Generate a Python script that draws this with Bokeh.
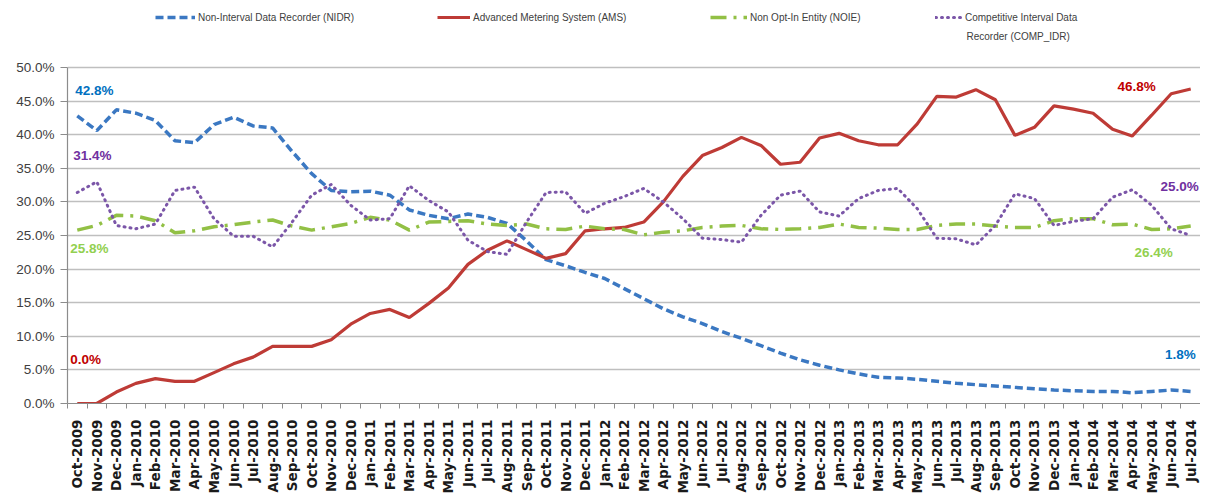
import numpy as np
from bokeh.plotting import figure
from bokeh.models import (Range1d, FixedTicker, PrintfTickFormatter, Legend, LegendItem,
                          ColumnDataSource, Label)
from bokeh.embed import file_html
from bokeh.resources import INLINE
from bokeh.core.properties import value

months = ["Oct-2009", "Nov-2009", "Dec-2009",
          "Jan-2010", "Feb-2010", "Mar-2010", "Apr-2010", "May-2010", "Jun-2010",
          "Jul-2010", "Aug-2010", "Sep-2010", "Oct-2010", "Nov-2010", "Dec-2010",
          "Jan-2011", "Feb-2011", "Mar-2011", "Apr-2011", "May-2011", "Jun-2011",
          "Jul-2011", "Aug-2011", "Sep-2011", "Oct-2011", "Nov-2011", "Dec-2011",
          "Jan-2012", "Feb-2012", "Mar-2012", "Apr-2012", "May-2012", "Jun-2012",
          "Jul-2012", "Aug-2012", "Sep-2012", "Oct-2012", "Nov-2012", "Dec-2012",
          "Jan-2013", "Feb-2013", "Mar-2013", "Apr-2013", "May-2013", "Jun-2013",
          "Jul-2013", "Aug-2013", "Sep-2013", "Oct-2013", "Nov-2013", "Dec-2013",
          "Jan-2014", "Feb-2014", "Mar-2014", "Apr-2014", "May-2014", "Jun-2014",
          "Jul-2014"]

nidr = [42.8, 40.6, 43.7,
        43.2, 42.1, 39.1, 38.8, 41.5, 42.6, 41.3, 41.0, 37.5, 34.2, 31.7, 31.5,
        31.6, 31.0, 28.8, 28.0, 27.5, 28.2, 27.7, 26.8, 24.2, 21.4, 20.5, 19.5,
        18.6, 17.1, 15.6, 14.1, 12.9, 11.9, 10.7, 9.7, 8.6, 7.5, 6.5, 5.7,
        5.0, 4.4, 3.9, 3.8, 3.6, 3.3, 3.0, 2.8, 2.6, 2.4, 2.2, 2.0,
        1.9, 1.8, 1.8, 1.6, 1.8, 2.0, 1.8]

ams = [0.0, 0.0, 1.7,
       3.0, 3.7, 3.3, 3.3, 4.6, 5.9, 6.9, 8.5, 8.5, 8.5, 9.5, 11.8,
       13.4, 14.0, 12.8, 14.9, 17.2, 20.7, 22.8, 24.2, 22.9, 21.6, 22.3, 25.7,
       26.0, 26.2, 27.0, 30.0, 33.8, 36.9, 38.1, 39.6, 38.4, 35.6, 35.9, 39.5,
       40.2, 39.1, 38.5, 38.5, 41.6, 45.7, 45.6, 46.7, 45.2, 39.9, 41.1, 44.3,
       43.8, 43.2, 40.8, 39.8, 42.9, 46.1, 46.8]

noie = [25.8, 26.5, 28.0,
        27.9, 27.2, 25.4, 25.7, 26.3, 26.6, 27.0, 27.3, 26.4, 25.8, 26.3, 26.8,
        27.7, 27.3, 25.8, 27.0, 27.1, 27.2, 26.7, 26.5, 26.7, 26.0, 25.9, 26.4,
        26.0, 25.9, 25.1, 25.5, 25.7, 26.2, 26.4, 26.5, 26.0, 25.9, 26.0, 26.2,
        26.7, 26.2, 26.1, 25.9, 25.9, 26.5, 26.7, 26.7, 26.4, 26.2, 26.2, 27.2,
        27.5, 27.5, 26.6, 26.7, 25.9, 26.0, 26.4]

comp = [31.4, 33.0, 26.5,
        26.0, 26.7, 31.7, 32.2, 27.5, 24.9, 24.9, 23.3, 27.0, 31.0, 32.6, 29.5,
        27.3, 27.5, 32.4, 30.2, 28.5, 24.3, 22.6, 22.2, 27.0, 31.4, 31.5, 28.3,
        29.8, 30.8, 32.0, 30.0, 27.5, 24.6, 24.4, 24.0, 28.0, 31.0, 31.6, 28.5,
        27.9, 30.5, 31.7, 32.0, 29.0, 24.6, 24.5, 23.6, 26.5, 31.2, 30.5, 26.5,
        27.1, 27.5, 30.7, 31.8, 29.5, 26.0, 25.0]

y_ticks = [0, 5, 10, 15, 20, 25, 30, 35, 40, 45, 50]

series_names = ["Non-Interval Data Recorder (NIDR)", "Advanced Metering System (AMS)",
                "Non Opt-In Entity (NOIE)", "Competitive Interval Data"]
comp_name_line2 = "Recorder (COMP_IDR)"

x = list(range(len(months)))

W, H = 1200, 500
LEFT = 67
FRAME_H = 403                     # frame reaches the top of the canvas (legend lives inside)
BOTTOM = H - FRAME_H
PLOT_H = 336                      # pixels from 0% to 50%
y_top = y_ticks[-1] * FRAME_H / PLOT_H

p = figure(width=W, height=H, output_backend="svg", toolbar_location=None,
           x_range=Range1d(-0.5, len(months) - 0.5), y_range=Range1d(0, y_top),
           min_border_left=LEFT, min_border_top=0, min_border_bottom=BOTTOM,
           min_border_right=0)
p.outline_line_color = None
p.background_fill_color = "white"
p.border_fill_color = "white"

# grid
p.xgrid.grid_line_color = None
p.ygrid.grid_line_color = "#BFBFBF"
p.ygrid.grid_line_width = 1.5

# y axis
p.yaxis.ticker = FixedTicker(ticks=y_ticks)
p.yaxis.bounds = (y_ticks[0], y_ticks[-1])
p.yaxis.formatter = PrintfTickFormatter(format="%.1f%%")
p.yaxis.axis_line_color = "#8C8C8C"
p.yaxis.axis_line_width = 1.2
p.yaxis.major_tick_line_color = "#8C8C8C"
p.yaxis.major_tick_out = 7
p.yaxis.major_tick_in = 0
p.yaxis.minor_tick_line_color = None
p.yaxis.major_label_standoff = 6
p.yaxis.major_label_text_font = "Liberation Sans"
p.yaxis.major_label_text_font_size = "13.5px"
p.yaxis.major_label_text_color = "#404040"

# x axis
p.xaxis.ticker = FixedTicker(ticks=x, minor_ticks=[i - 0.5 for i in x] + [len(x) - 0.5])
p.xaxis.major_label_overrides = {i: m for i, m in enumerate(months)}
p.xaxis.major_label_orientation = np.pi / 2
p.xaxis.axis_line_color = "#8C8C8C"
p.xaxis.axis_line_width = 1.2
p.xaxis.major_tick_line_color = None
p.xaxis.major_tick_out = 0
p.xaxis.minor_tick_line_color = "#8C8C8C"
p.xaxis.minor_tick_out = 5
p.xaxis.minor_tick_in = 0
p.xaxis.major_label_standoff = 11
p.xaxis.major_label_text_font = "DejaVu Sans"
p.xaxis.major_label_text_font_style = "bold"
p.xaxis.major_label_text_font_size = "13.5px"
p.xaxis.major_label_text_color = "#1A1A1A"

# series
r_nidr = p.line(x, nidr, line_color="#3B78C2", line_width=3.5, line_dash="8 4")
r_ams = p.line(x, ams, line_color="#BE3B36", line_width=3.2)
r_noie = p.line(x, noie, line_color="#92C045", line_width=3.5, line_dash="16 7 3 7")
r_comp = p.line(x, comp, line_color="#7B56A8", line_width=3, line_dash="1 5",
                line_cap="round")

# legend entries, one legend each, positioned in the top strip
leg_specs = [(r_nidr, series_names[0], 88, 40),
             (r_ams, series_names[1], 370, 33),
             (r_noie, series_names[2], 643, 37),
             (r_comp, series_names[3], 868, 27)]
for rend, name, vx, gw in leg_specs:
    lg = Legend(items=[LegendItem(label=name, renderers=[rend])],
                location=(vx, FRAME_H - 25), orientation="horizontal",
                padding=0, margin=0, border_line_color=None,
                background_fill_alpha=0, glyph_width=gw, glyph_height=16,
                label_height=16, label_standoff=3,
                label_text_font="Liberation Sans", label_text_font_size="10px",
                label_text_color="#404040")
    p.add_layout(lg)

p.add_layout(Label(x=899, y=FRAME_H - 36, x_units="screen", y_units="screen",
                   text=comp_name_line2, text_baseline="middle",
                   text_font="Liberation Sans", text_font_size="10px",
                   text_color="#404040"))

# data labels at first and last points
label_colors = ["#0070C0", "#C00000", "#92D050", "#7030A0"]
all_series = [nidr, ams, noie, comp]
left_off = [(-2, -25), (-7, -44), (-7, 18), (-4, -37)]
right_off = [(5, -37), (-35, -3), (-18, 26), (8, -49)]

src_l = ColumnDataSource(dict(
    x=[x[0]] * 4, y=[s[0] for s in all_series],
    text=[f"{s[0]:.1f}%" for s in all_series], color=label_colors,
    xo=[o[0] for o in left_off], yo=[o[1] for o in left_off]))
src_r = ColumnDataSource(dict(
    x=[x[-1]] * 4, y=[s[-1] for s in all_series],
    text=[f"{s[-1]:.1f}%" for s in all_series], color=label_colors,
    xo=[o[0] for o in right_off], yo=[o[1] for o in right_off]))

for src, align in ((src_l, "left"), (src_r, "right")):
    p.text(x="x", y="y", text="text", source=src, text_color="color",
           x_offset="xo", y_offset="yo", text_align=align, text_baseline="middle",
           text_font=value("Liberation Sans"), text_font_style="bold",
           text_font_size="13.5px")

open("out.html", "w").write(file_html(p, INLINE))
